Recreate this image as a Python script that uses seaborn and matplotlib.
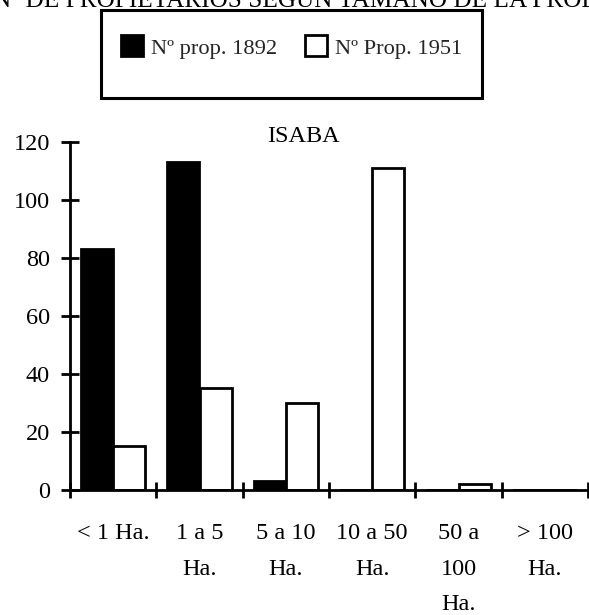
import matplotlib
matplotlib.use("Agg")
import matplotlib.pyplot as plt
import seaborn as sns
import pandas as pd
from matplotlib.patches import Rectangle

categories = ["< 1 Ha.", "1 a 5\nHa.", "5 a 10\nHa.", "10 a 50\nHa.", "50 a\n100\nHa.", "> 100\nHa."]
prop_1892 = [83, 113, 3, 0, 0, 0]
prop_1951 = [15, 35, 30, 111, 2, 0]
series_names = ["Nº prop. 1892", "Nº Prop. 1951"]
yticks = [0, 20, 40, 60, 80, 100, 120]

df = pd.DataFrame({
    "cat": categories * 2,
    "val": prop_1892 + prop_1951,
    "serie": [series_names[0]] * len(categories) + [series_names[1]] * len(categories),
})

sns.set_theme(style="white")
plt.rcParams["font.family"] = ["Liberation Serif", "DejaVu Serif"]
FS = 17.5

fig = plt.figure(figsize=(5.89, 6.15), dpi=100)
W, H = 589, 615
ax = fig.add_axes([70 / W, 1 - 490 / H, 518 / W, (490 - 141.7) / H])

sns.barplot(data=df, x="cat", y="val", hue="serie", order=categories,
            hue_order=series_names, palette=["black", "white"],
            edgecolor="black", linewidth=2, width=0.75, gap=0.02, ax=ax, legend=True)

ax.set_ylim(0, 120)
ax.set_xlim(-0.5, len(categories) - 0.5)
ax.set_yticks(yticks)
ax.set_yticklabels([str(v) for v in yticks], fontsize=FS, color="black")
ax.set_xticks(range(len(categories)))
ax.set_xticklabels(categories, fontsize=FS, color="black", linespacing=1.93)
ax.set_xticks([i - 0.5 for i in range(len(categories) + 1)], minor=True)
ax.tick_params(axis="x", which="major", length=0, pad=23.5)
ax.tick_params(axis="x", which="minor", direction="inout", length=12, width=2, color="black", bottom=True)
ax.tick_params(axis="y", direction="inout", length=13, width=2, color="black", pad=8, left=True)
ax.set_xlabel("")
ax.set_ylabel("")
for s in ["top", "right"]:
    ax.spines[s].set_visible(False)
for s in ["left", "bottom"]:
    ax.spines[s].set_color("black")
    ax.spines[s].set_linewidth(2)
ax.spines["bottom"].set_zorder(5)
ax.set_facecolor("white")
ax.grid(False)

LFS = 16.2
handles, labels = ax.get_legend_handles_labels()
ax.get_legend().remove()
fig.legend(handles, labels, loc="center", bbox_to_anchor=(291.5 / W, 1 - 47 / H),
           ncol=2, frameon=False, fontsize=LFS, handlelength=0.98, handleheight=1.05,
           handletextpad=0.35, columnspacing=1.25)
fig.patches.append(Rectangle((101 / W, 1 - 98 / H), (482 - 101) / W, (98 - 10) / H,
                             transform=fig.transFigure, fill=False, edgecolor="black",
                             linewidth=2.2))

fig.text(303 / W, 1 - 137 / H, "ISABA", ha="center", va="center", fontsize=FS, color="black")
fig.text(-7 / W, 1 - 7 / H, "Nº DE PROPIETARIOS SEGÚN TAMAÑO DE LA PROPIEDAD",
         ha="left", va="baseline", fontsize=18.2, color="black")

fig.savefig("out.png", dpi=100, facecolor="white")
